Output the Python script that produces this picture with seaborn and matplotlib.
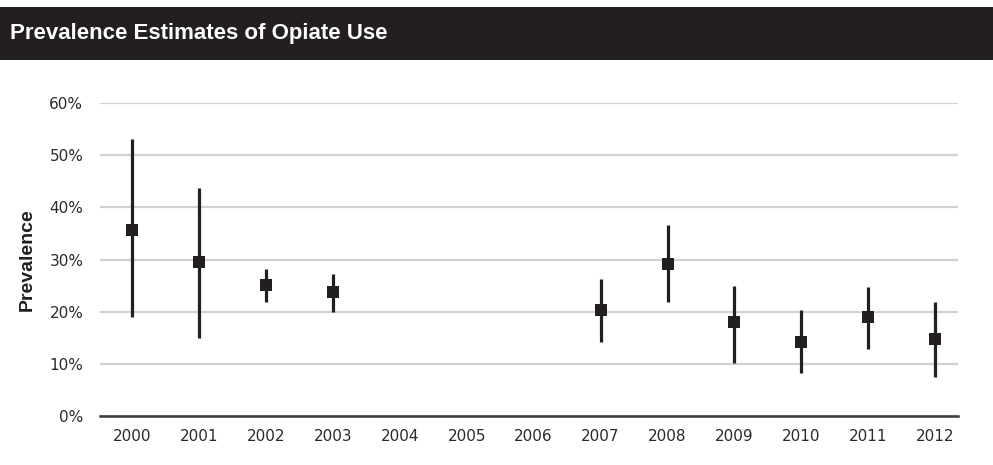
import matplotlib
matplotlib.use('Agg')
import matplotlib.pyplot as plt
import seaborn as sns
import pandas as pd
from matplotlib.ticker import FuncFormatter

# Datos (prevalencia en %)
years = [2000, 2001, 2002, 2003, 2007, 2008, 2009, 2010, 2011, 2012]
estimate = [35.6, 29.5, 25.1, 23.8, 20.3, 29.2, 18.1, 14.2, 19.0, 14.8]
lower = [19.0, 14.9, 21.8, 19.9, 14.2, 21.8, 10.1, 8.3, 12.8, 7.5]
upper = [53.1, 43.7, 28.2, 27.2, 26.3, 36.6, 25.0, 20.4, 24.8, 21.8]
tick_years = list(range(2000, 2013))

df = pd.DataFrame({'year': years, 'est': estimate, 'lo': lower, 'hi': upper})

sns.set_theme(style="white")
plt.rcParams['font.family'] = ['DejaVu Sans']

dark = '#231f20'
fig = plt.figure(figsize=(9.93, 4.65), dpi=100)

# Barra del título
bar = fig.add_axes([0, 1 - 60 / 465, 1, 53 / 465])
bar.set_facecolor(dark)
bar.set_xticks([])
bar.set_yticks([])
for s in bar.spines.values():
    s.set_visible(False)
bar.text(10 / 993, 0.5, 'Prevalence Estimates of Opiate Use', color='white',
         fontsize=16, fontweight='bold', family=['Liberation Sans Narrow', 'Liberation Sans'],
         va='center', ha='left', transform=bar.transAxes)

ax = fig.add_axes([100 / 993, 49 / 465, 858 / 993, 313 / 465])

ax.vlines(df['year'], df['lo'], df['hi'], color=dark, linewidth=2.3, zorder=3)
sns.scatterplot(data=df, x='year', y='est', marker='s', s=85, color=dark,
                edgecolor=dark, linewidth=0, ax=ax, zorder=4)

ax.set_xlim(1999.52, 2012.34)
ax.set_ylim(0, 60)
ax.set_yticks(range(0, 61, 10))
ax.set_xticks(tick_years)
ax.yaxis.set_major_formatter(FuncFormatter(lambda v, p: f'{int(v)}%'))
ax.grid(axis='y', color='#d2d2d2', linewidth=1.6)
ax.grid(axis='x', visible=False)
ax.set_axisbelow(True)
for side in ['top', 'right', 'left']:
    ax.spines[side].set_visible(False)
ax.spines['bottom'].set_color('#3a3a3a')
ax.spines['bottom'].set_linewidth(1.8)
ax.spines['bottom'].set_zorder(5)
ax.tick_params(axis='both', length=0, labelsize=11, colors='#2a2a2a')
ax.tick_params(axis='y', pad=12)
ax.tick_params(axis='x', pad=9)
ax.set_xlabel('')
ax.set_ylabel('Prevalence', fontsize=14, fontweight='bold',
              family=['Liberation Sans Narrow', 'Liberation Sans'],
              color=dark, labelpad=10)

fig.savefig('out.png', dpi=100)
